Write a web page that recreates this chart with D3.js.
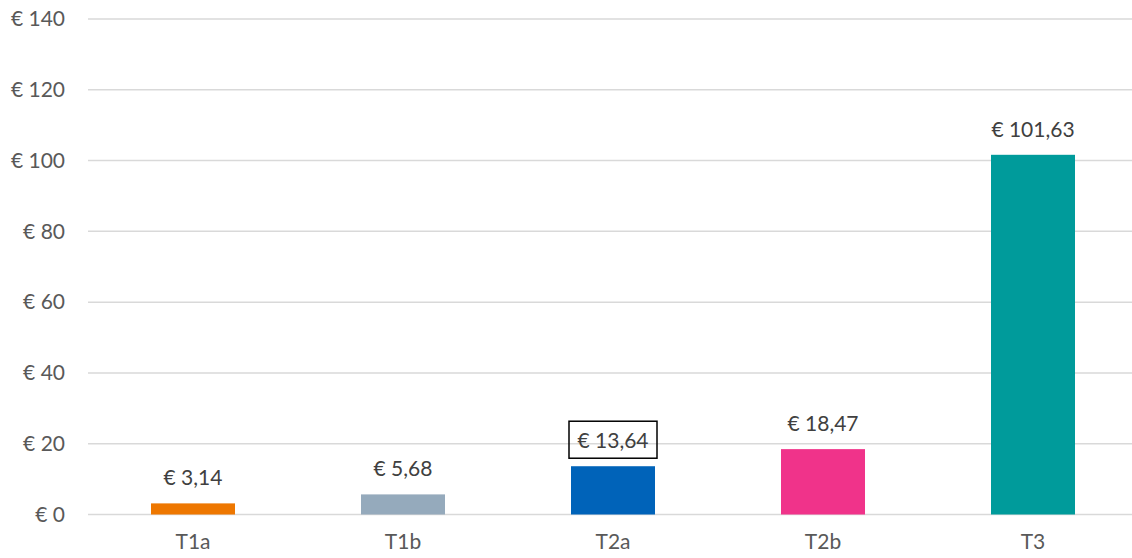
<!DOCTYPE html>
<html><head><meta charset="utf-8">
<script src="https://cdn.jsdelivr.net/npm/d3@7"></script>
<style>body{margin:0;background:#fff}svg{display:block}</style>
</head><body>
<svg id="c" width="1132" height="558"></svg>
<script>
const categories = ["T1a","T1b","T2a","T2b","T3"];
const values = [3.14, 5.68, 13.64, 18.47, 101.63];
const labels = ["€ 3,14","€ 5,68","€ 13,64","€ 18,47","€ 101,63"];
const colors = ["#EE7700","#95AABC","#0063B9","#F0338A","#009B9B"];
const yTicks = [0,20,40,60,80,100,120,140];
const yTickLabels = ["€ 0","€ 20","€ 40","€ 60","€ 80","€ 100","€ 120","€ 140"];
const boxed = "T2a";

const svg = d3.select("#c");
const font = "Lato, 'Open Sans', sans-serif";
const x = d3.scaleBand().domain(categories).range([88, 1138]).paddingInner(0.6).paddingOuter(0.3);
const y = d3.scaleLinear().domain([0,140]).range([514.5, 19]);

// gridlines
svg.append("g").selectAll("line").data(yTicks).join("line")
  .attr("x1", 88).attr("x2", 1132)
  .attr("y1", d => y(d)).attr("y2", d => y(d))
  .attr("stroke", "#d9d9d9").attr("stroke-width", 1.5);

// y axis
const yAxis = d3.axisLeft(y).tickValues(yTicks).tickFormat((d,i) => yTickLabels[i]).tickSize(0).tickPadding(24);
const ga = svg.append("g").attr("transform","translate(89,0)").call(yAxis);
ga.select(".domain").remove();
ga.selectAll("text").attr("font-family", font).attr("font-size", 21).attr("fill", "#595959");

// bars
svg.append("g").selectAll("rect").data(values).join("rect")
  .attr("x", (d,i) => x(categories[i]))
  .attr("width", x.bandwidth())
  .attr("y", d => y(d))
  .attr("height", d => y(0) - y(d))
  .attr("fill", (d,i) => colors[i]);

// x axis
const xAxis = d3.axisBottom(x).tickSize(0).tickPadding(20);
const gx = svg.append("g").attr("transform", `translate(0,${y(0)})`).call(xAxis);
gx.select(".domain").remove();
gx.selectAll("text").attr("font-family", font).attr("font-size", 21).attr("fill", "#595959");

// value labels
const lg = svg.append("g");
values.forEach((v,i) => {
  const cx = x(categories[i]) + x.bandwidth()/2;
  const t = lg.append("text")
    .attr("x", cx).attr("y", y(v) - 18)
    .attr("text-anchor","middle")
    .attr("font-family", font).attr("font-size", 21).attr("fill", "#404040")
    .text(labels[i]);
  if (categories[i] === boxed) {
    const bb = t.node().getBBox();
    lg.insert("rect", "text")
      .attr("x", cx - 44).attr("y", y(v) - 45)
      .attr("width", 88).attr("height", 37)
      .attr("fill", "#fff").attr("fill-opacity", 0)
      .attr("stroke", "#000").attr("stroke-width", 1.5);
  }
});
</script>
</body></html>
